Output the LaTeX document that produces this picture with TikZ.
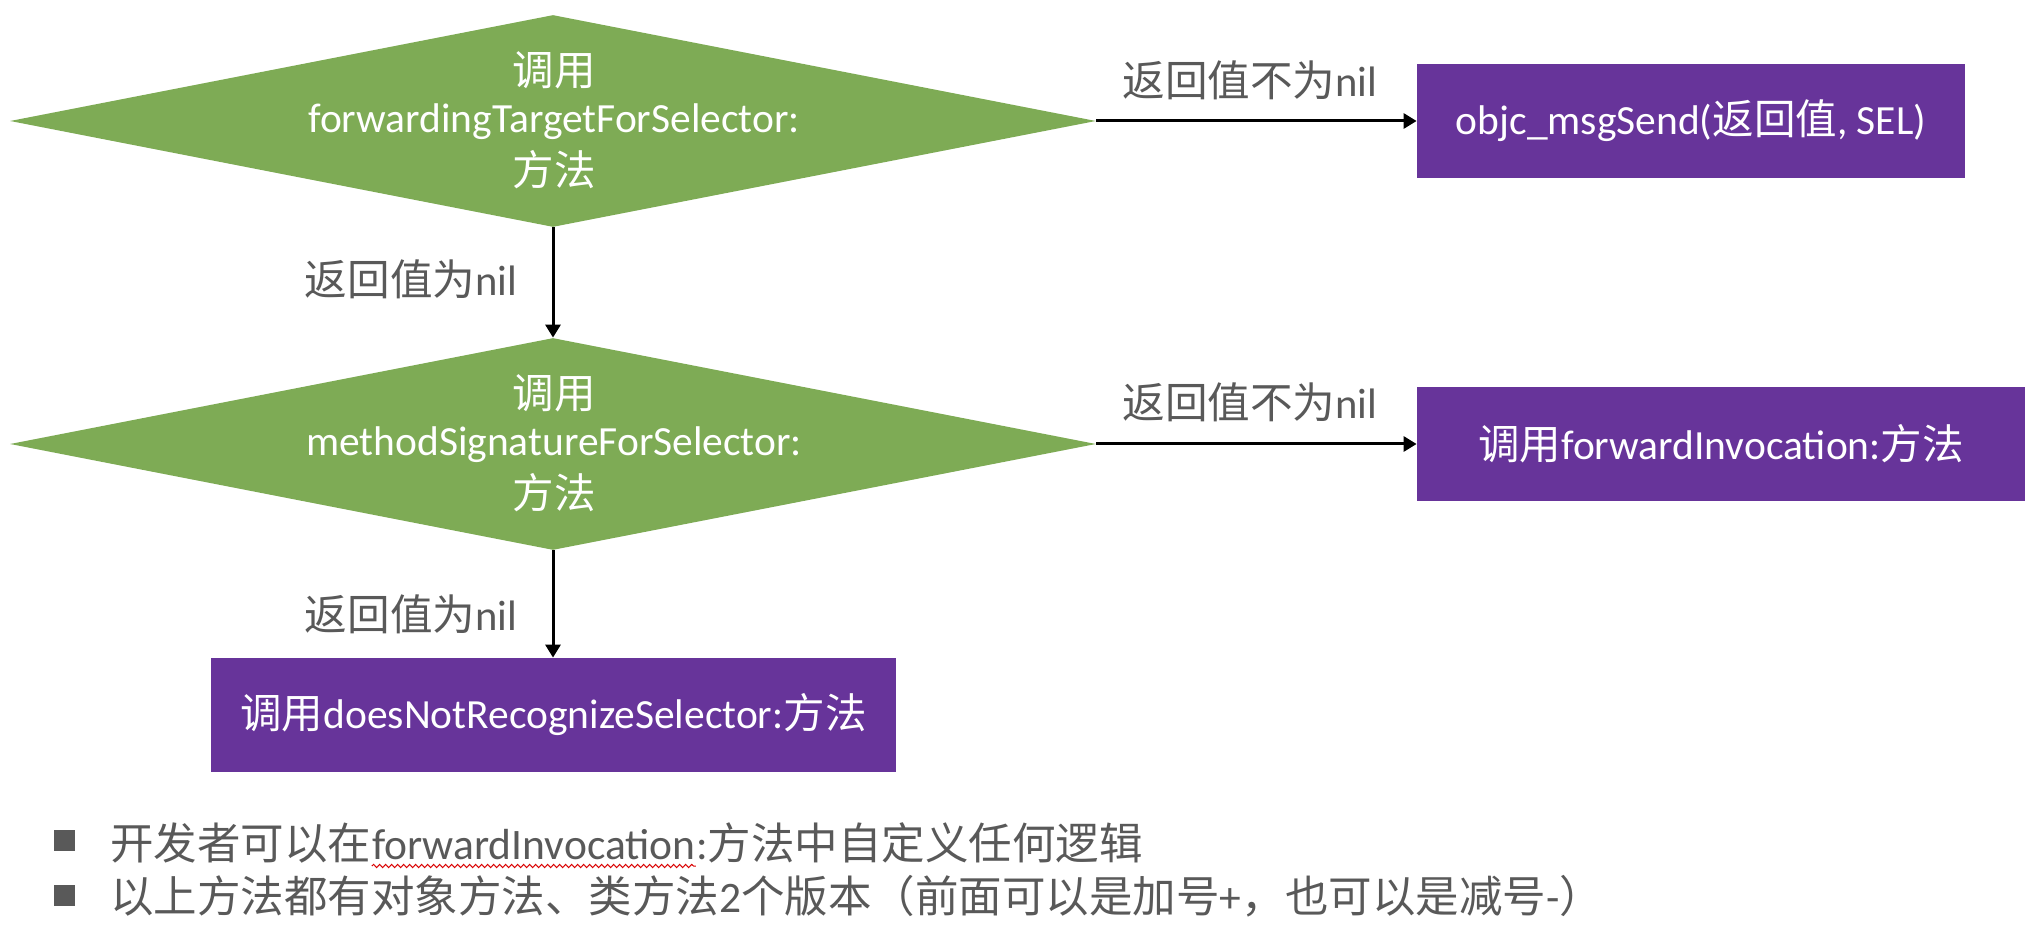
\documentclass[tikz,border=0pt]{standalone}
\usepackage{fontspec}
\setmainfont{Carlito}
\newfontfamily\cjk{Noto Sans CJK SC}
\usetikzlibrary{shapes.geometric,arrows.meta,decorations.pathmorphing}
\newcommand{\zh}[1]{{\cjk #1}}
\definecolor{dgreen}{HTML}{7EAB55}
\definecolor{dpurple}{HTML}{67349A}
\definecolor{lgray}{HTML}{595959}
\begin{document}
\begin{tikzpicture}[x=0.5pt,y=-0.5pt,
  dia/.style={diamond, fill=dgreen, draw=none, inner sep=0pt, minimum width=543pt, minimum height=106pt},
  diatext/.style={text=white, align=center, inner sep=0pt, font=\fontsize{20.75}{25}\selectfont},
  pbox/.style={rectangle, fill=dpurple, draw=none, inner sep=0pt, text=white, font=\fontsize{20.75}{25}\selectfont},
  lbl/.style={text=lgray, inner sep=0pt, font=\fontsize{21.3}{25}\selectfont},
  btxt/.style={text=lgray, inner sep=0pt, anchor=base west, font=\fontsize{21.75}{26}\selectfont},
  bsq/.style={rectangle, fill=lgray, draw=none, inner sep=0pt, minimum size=10.5pt},
  arr/.style={draw=black, line width=1.5pt, -{Triangle[length=6.5pt,width=7.5pt]}},
  wavy/.style={draw=red!85!black, line width=0.5pt, decorate, decoration={snake, amplitude=0.8pt, segment length=3pt}}
]
\useasboundingbox (0,0) rectangle (2034,930);

% diamonds
\node[dia] (d1) at (553,121) {};
\node[diatext] (d1t) at (554,120) {\zh{调用}\\[-1.5pt]forwardingTargetForSelector:\\[1.5pt]\zh{方法}};
\node[dia] (d2) at (553,444) {};
\node[diatext] (d2t) at (554,443) {\zh{调用}\\[-1.5pt]methodSignatureForSelector:\\[1.5pt]\zh{方法}};

% purple boxes
\node[pbox, minimum width=274pt, minimum height=57pt] (b1) at (1691,121) {objc\_msgSend(\zh{返回值}, SEL)};
\node[pbox, minimum width=304pt, minimum height=56.5pt] (b2) at (1721,444) {\zh{调用}forwardInvocation:\zh{方法}};
\node[pbox, minimum width=342.5pt, minimum height=57pt] (b3) at (553.5,715) {\zh{调用}doesNotRecognizeSelector:\zh{方法}};

% connectors
\draw[arr] (d1.east) -- (d1.east -| b1.west);
\draw[arr] (d2.east) -- (d2.east -| b2.west);
\draw[arr] (d1.south) -- (d2.north);
\draw[arr] (d2.south) -- (d2.south |- b3.north);

% labels
\node[lbl] (l1) at (1250,80) {\zh{返回值不为}nil};
\node[lbl] (l2) at (1250,402) {\zh{返回值不为}nil};
\node[lbl] (l3) at (411,279) {\zh{返回值为}nil};
\node[lbl] (l4) at (411,614) {\zh{返回值为}nil};

% bullets
\node[bsq] (s1) at (64,840) {};
\node[bsq] (s2) at (64,895) {};
\node[btxt] (t1a) at (110,859) {\zh{开发者可以在}};
\node[btxt] (t1b) at (t1a.base east) {forwardInvocation};
\node[btxt] (t1c) at (t1b.base east) {:\zh{方法中自定义任何逻辑}};
\node[btxt] (t2) at (110,912) {\zh{以上方法都有对象方法、类方法}2\zh{个版本（前面可以是加号}+\zh{，也可以是减号}-\zh{）}};
\draw[wavy] ([yshift=-3.5pt]t1b.base west) -- ([yshift=-3.5pt]t1b.base east);
\end{tikzpicture}
\end{document}
